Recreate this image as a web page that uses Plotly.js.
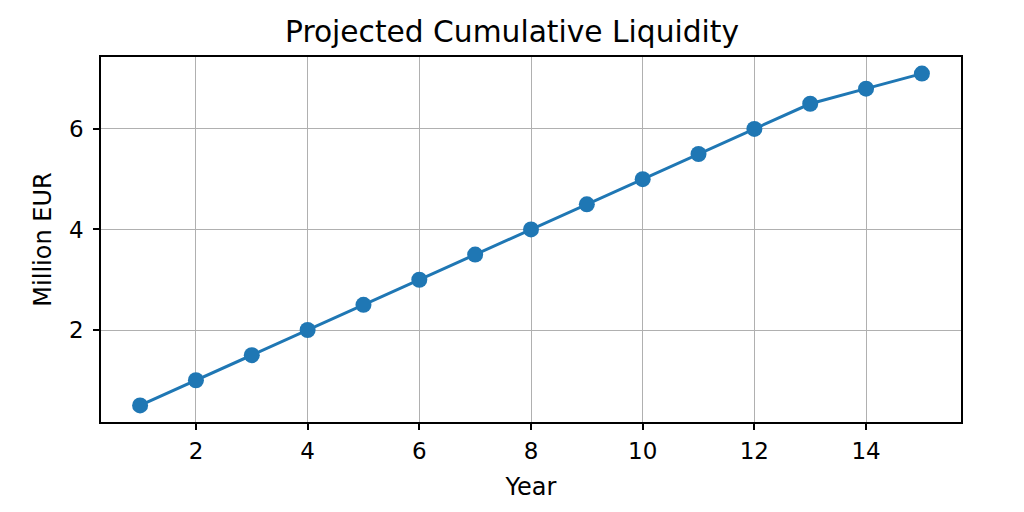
<!DOCTYPE html>
<html>
<head>
<meta charset="utf-8">
<script src="https://cdn.plot.ly/plotly-3.0.1.min.js"></script>
<style>
  html, body { margin: 0; padding: 0; background: #fff; }
  #chart { width: 1024px; height: 512px; }
</style>
</head>
<body>
<div id="chart"></div>
<script>
var years = [1, 2, 3, 4, 5, 6, 7, 8, 9, 10, 11, 12, 13, 14, 15];
var liquidity = [0.5, 1.0, 1.5, 2.0, 2.5, 3.0, 3.5, 4.0, 4.5, 5.0, 5.5, 6.0, 6.5, 6.8, 7.1];
var xTicks = [2, 4, 6, 8, 10, 12, 14];
var yTicks = [2, 4, 6];

var trace = {
    x: years,
    y: liquidity,
    type: 'scatter',
    mode: 'lines+markers',
    line: {color: '#1f77b4', width: 3},
    marker: {color: '#1f77b4', size: 16},
    hoverinfo: 'x+y'
};

var axisStyle = {
    showline: true,
    linecolor: '#000',
    linewidth: 1.5,
    mirror: true,
    showgrid: true,
    gridcolor: '#b0b0b0',
    gridwidth: 1.3,
    zeroline: false,
    ticks: 'outside',
    ticklen: 6,
    tickwidth: 1.5,
    tickcolor: '#000',
    tickfont: {size: 23, color: '#000'}
};

var layout = {
    width: 1024,
    height: 512,
    margin: {t: 57, b: 90, l: 101, r: 63},
    paper_bgcolor: '#fff',
    plot_bgcolor: '#fff',
    font: {family: 'DejaVu Sans, sans-serif', color: '#000'},
    showlegend: false,
    title: {
        text: 'Projected Cumulative Liquidity',
        font: {size: 29.7, color: '#000'},
        x: 0.5,
        xanchor: 'center',
        y: 1,
        yref: 'paper',
        yanchor: 'bottom',
        pad: {b: 15}
    },
    xaxis: Object.assign({}, axisStyle, {
        range: [0.3, 15.7],
        tickvals: xTicks,
        ticklabelstandoff: 2,
        title: {text: 'Year', font: {size: 24}, standoff: 15}
    }),
    yaxis: Object.assign({}, axisStyle, {
        range: [0.17, 7.43],
        tickvals: yTicks,
        ticklabelstandoff: 5,
        title: {text: 'Million EUR', font: {size: 24}, standoff: 11}
    })
};

Plotly.newPlot('chart', [trace], layout, {displayModeBar: false});
</script>
</body>
</html>
